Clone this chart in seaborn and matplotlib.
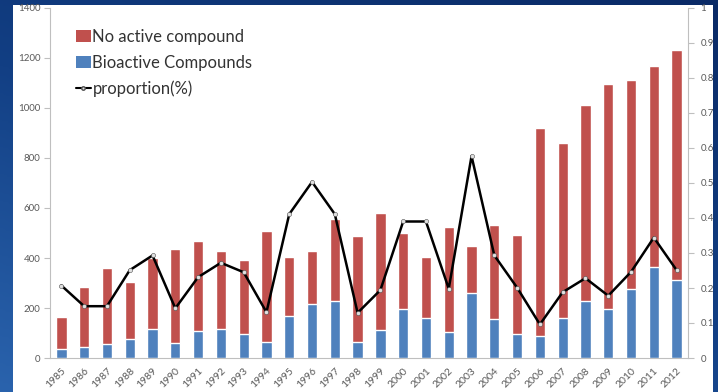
import numpy as np
import pandas as pd
import matplotlib
matplotlib.use("Agg")
import matplotlib.pyplot as plt
from matplotlib.patches import Rectangle
from matplotlib.lines import Line2D
from matplotlib.patches import Patch
import seaborn as sns

years = [str(y) for y in range(1985, 2013)]
bioactive = [35, 43, 55, 75, 117, 59, 108, 116, 96, 65, 168, 215, 229, 63,
             112, 196, 159, 104, 260, 155, 97, 88, 160, 229, 196, 276, 365, 311]
no_active = [130, 242, 306, 229, 283, 376, 360, 312, 297, 443, 237, 212, 327, 424,
             468, 303, 244, 419, 187, 376, 396, 831, 698, 782, 901, 836, 804, 922]
proportion = [0.207, 0.148, 0.148, 0.251, 0.293, 0.142, 0.231, 0.272, 0.245, 0.131,
              0.411, 0.503, 0.411, 0.129, 0.194, 0.390, 0.390, 0.198, 0.577, 0.293,
              0.201, 0.096, 0.188, 0.228, 0.178, 0.246, 0.344, 0.251]
left_ticks = [0, 200, 400, 600, 800, 1000, 1200, 1400]
right_ticks = [0, 0.1, 0.2, 0.3, 0.4, 0.5, 0.6, 0.7, 0.8, 0.9, 1]
right_labels = ["0", "0.1", "0.2", "0.3", "0.4", "0.5", "0.6", "0.7", "0.8", "0.9", "1"]

RED = "#C0504D"
BLUE = "#4F81BD"
TXT = "#595959"

df = pd.DataFrame({"year": years, "bio": bioactive, "none": no_active})
df["total"] = df["bio"] + df["none"]

sns.set_theme(style="white")
plt.rcParams["font.family"] = ["Lato", "DejaVu Sans"]

W, H = 718, 392
fig = plt.figure(figsize=(W / 100, H / 100), dpi=100)

# dark blue backdrop with a soft diagonal gradient
bg = fig.add_axes([0, 0, 1, 1], zorder=-10)
gx, gy = np.meshgrid(np.linspace(0, 1, 256), np.linspace(0, 1, 256))
grad = 0.6 * gy + 0.4 * gx
bg.imshow(grad, aspect="auto", extent=[0, 1, 0, 1],
          cmap=matplotlib.colors.LinearSegmentedColormap.from_list(
              "bgblue", ["#2a63ad", "#123f84", "#0a2a66"]), origin="lower")
bg.axis("off")

# white slide panel
fig.patches.append(Rectangle((13 / W, 0), (713 - 13) / W, (392 - 5) / H,
                             transform=fig.transFigure, facecolor="white",
                             edgecolor="none", zorder=-5))

ax = fig.add_axes([50 / W, 34 / H, (688 - 50) / W, 350 / H])
ax.patch.set_alpha(0)

sns.barplot(data=df, x="year", y="total", color=RED, width=0.45,
            saturation=1, ax=ax, zorder=2)
sns.barplot(data=df, x="year", y="bio", color=BLUE, width=0.45,
            saturation=1, ax=ax, zorder=3)

ax.set_xlim(-0.5, len(years) - 0.5)
ax.set_ylim(0, 1400)
ax.set_yticks(left_ticks)
ax.set_yticklabels([str(t) for t in left_ticks], fontsize=7, color=TXT)
ax.set_xlabel("")
ax.set_ylabel("")
ax.set_xticks(range(len(years)))
ax.set_xticklabels(years, rotation=45, ha="right", rotation_mode="anchor",
                   fontsize=7.5, color=TXT)
ax.tick_params(axis="x", which="major", length=0, pad=6)
ax.set_xticks(np.arange(-0.5, len(years), 1), minor=True)
ax.tick_params(axis="x", which="minor", length=4, color="#bfbfbf", width=0.8)
ax.tick_params(axis="y", length=4, color="#bfbfbf", width=0.8, pad=3)
for side in ["top", "right"]:
    ax.spines[side].set_visible(False)
for side in ["left", "bottom"]:
    ax.spines[side].set_color("#bfbfbf")
    ax.spines[side].set_linewidth(0.8)

ax2 = ax.twinx()
sns.lineplot(x=np.arange(len(years)), y=proportion, ax=ax2, color="black",
             linewidth=1.8, marker="o", markersize=3,
             markerfacecolor="#e0e0e0", markeredgecolor="#505050",
             markeredgewidth=0.4, zorder=5)
ax2.set_ylim(0, 1)
ax2.set_yticks(right_ticks)
ax2.set_yticklabels(right_labels, fontsize=7, color=TXT)
ax2.tick_params(axis="y", length=4, color="#bfbfbf", width=0.8, pad=5)
ax2.set_ylabel("")
for side in ["top", "left", "bottom"]:
    ax2.spines[side].set_visible(False)
ax2.spines["right"].set_color("#bfbfbf")
ax2.spines["right"].set_linewidth(0.8)

handles = [Patch(facecolor=RED, edgecolor="none"),
           Patch(facecolor=BLUE, edgecolor="none"),
           Line2D([], [], color="black", linewidth=1.5, marker="o", markersize=2.5,
                  markerfacecolor="#e0e0e0", markeredgecolor="#505050")]
labels = ["No active compound", "Bioactive Compounds", "proportion(%)"]
ax.legend(handles, labels, loc="upper left", bbox_to_anchor=(0.03, 0.96),
          frameon=False, fontsize=12, labelcolor="#333333",
          handlelength=0.9, handleheight=0.7, handletextpad=0.1,
          labelspacing=0.6, borderaxespad=0)

fig.savefig("out.png", dpi=100)
